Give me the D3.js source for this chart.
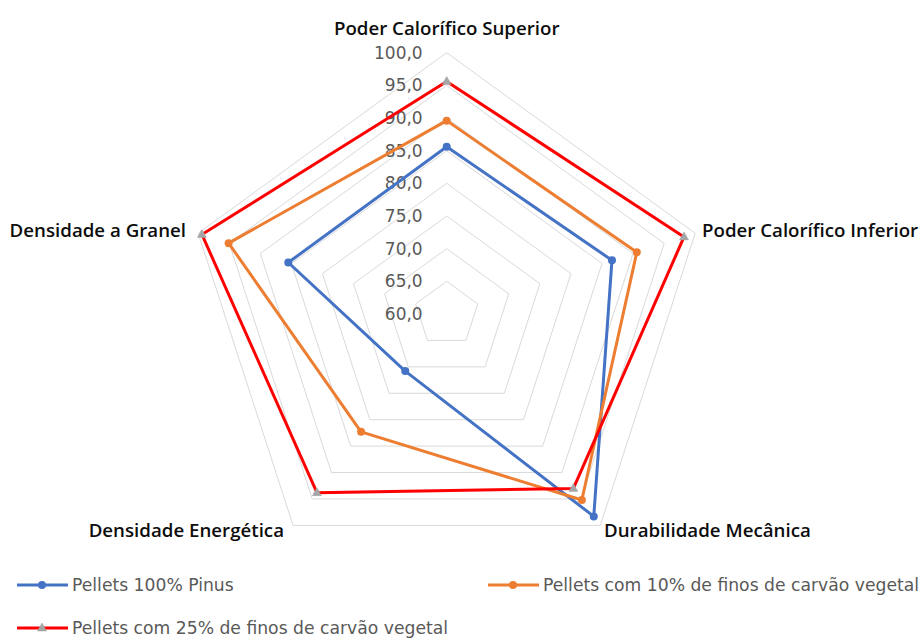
<!DOCTYPE html>
<html><head><meta charset="utf-8">
<script src="https://cdn.jsdelivr.net/npm/d3@7"></script>
<style>body{margin:0;background:#fff}svg{display:block}</style>
</head><body>
<svg id="c" width="923" height="641"></svg>
<script>
const axes = ["Poder Calorífico Superior","Poder Calorífico Inferior","Durabilidade Mecânica","Densidade Energética","Densidade a Granel"];
const seriesNames = ["Pellets 100% Pinus","Pellets com 10% de finos de carvão vegetal","Pellets com 25% de finos de carvão vegetal"];
const pinus = [85.6, 86.6, 98.3, 70.8, 85.5];
const finos10 = [89.6, 90.6, 95.2, 82.3, 95.1];
const finos25 = [95.6, 98.2, 93.0, 93.8, 99.4];
const ticks = [60,65,70,75,80,85,90,95,100];
const colors = ["#4472c4","#ed7d31","#ff0000"];

const svg = d3.select("#c");
const cx = 446.7, cy = 314;
const r = d3.scaleLinear().domain([60,100]).range([0,261.3]);
const ang = i => i*2*Math.PI/axes.length;
const pt = (v,i) => [cx + r(v)*Math.sin(ang(i)), cy - r(v)*Math.cos(ang(i))];
const labFont = "'Open Sans', sans-serif";
const txtFont = "'DejaVu Sans', sans-serif";

// grid rings
ticks.slice(1).forEach(t=>{
  svg.append("polygon").attr("points", axes.map((a,i)=>pt(t,i).join(",")).join(" "))
    .attr("fill","none").attr("stroke","#d9d9d9").attr("stroke-width",1);
});
// tick labels
ticks.forEach(t=>{
  svg.append("text").attr("x",cx-24).attr("y",cy - r(t)).attr("dy","0.36em")
    .attr("text-anchor","end").attr("font-family",txtFont).attr("font-size",17)
    .attr("fill","#595959").text(d3.format(".1f")(t).replace(".",","));
});
// axis labels
const labelPos = [
  {x:cx, y:28, anchor:"middle"},
  {x:702, y:230, anchor:"start"},
  {x:604, y:530, anchor:"start"},
  {x:284, y:530, anchor:"end"},
  {x:186, y:230, anchor:"end"}
];
axes.forEach((a,i)=>{
  svg.append("text").attr("x",labelPos[i].x).attr("y",labelPos[i].y).attr("dy","0.36em")
    .attr("text-anchor",labelPos[i].anchor).attr("font-family",labFont).attr("font-weight",600)
    .attr("font-size",18.7).attr("fill","#0d0d0d").text(a);
});
// series
const data = [pinus, finos10, finos25];
const line = d3.line().curve(d3.curveLinearClosed);
data.forEach((s,k)=>{
  svg.append("path").attr("d", line(s.map((v,i)=>pt(v,i))))
    .attr("fill","none").attr("stroke",colors[k]).attr("stroke-width",3).attr("stroke-linejoin","round");
});
function marker(g,k,x,y){
  if(k<2){
    g.append("circle").attr("cx",x).attr("cy",y).attr("r",4).attr("fill",colors[k]);
  } else {
    const s=5;
    g.append("path").attr("d",`M${x},${y-s}L${x+s*0.9},${y+s*0.6}L${x-s*0.9},${y+s*0.6}Z`)
      .attr("fill","#a5a5a5").attr("stroke","#a5a5a5").attr("stroke-width",0.5);
  }
}
data.forEach((s,k)=>{
  s.forEach((v,i)=>{ const p=pt(v,i); marker(svg,k,p[0],p[1]); });
});
// legend
const leg = [{x:17,y:585},{x:488,y:585},{x:17,y:628}];
seriesNames.forEach((n,k)=>{
  const L = leg[k];
  svg.append("line").attr("x1",L.x).attr("x2",L.x+51).attr("y1",L.y).attr("y2",L.y)
    .attr("stroke",colors[k]).attr("stroke-width",3);
  marker(svg,k,L.x+25,L.y);
  svg.append("text").attr("x",L.x+55).attr("y",L.y).attr("dy","0.36em")
    .attr("font-family",txtFont).attr("font-size",17.2).attr("fill","#595959").text(n);
});
</script>
</body></html>
